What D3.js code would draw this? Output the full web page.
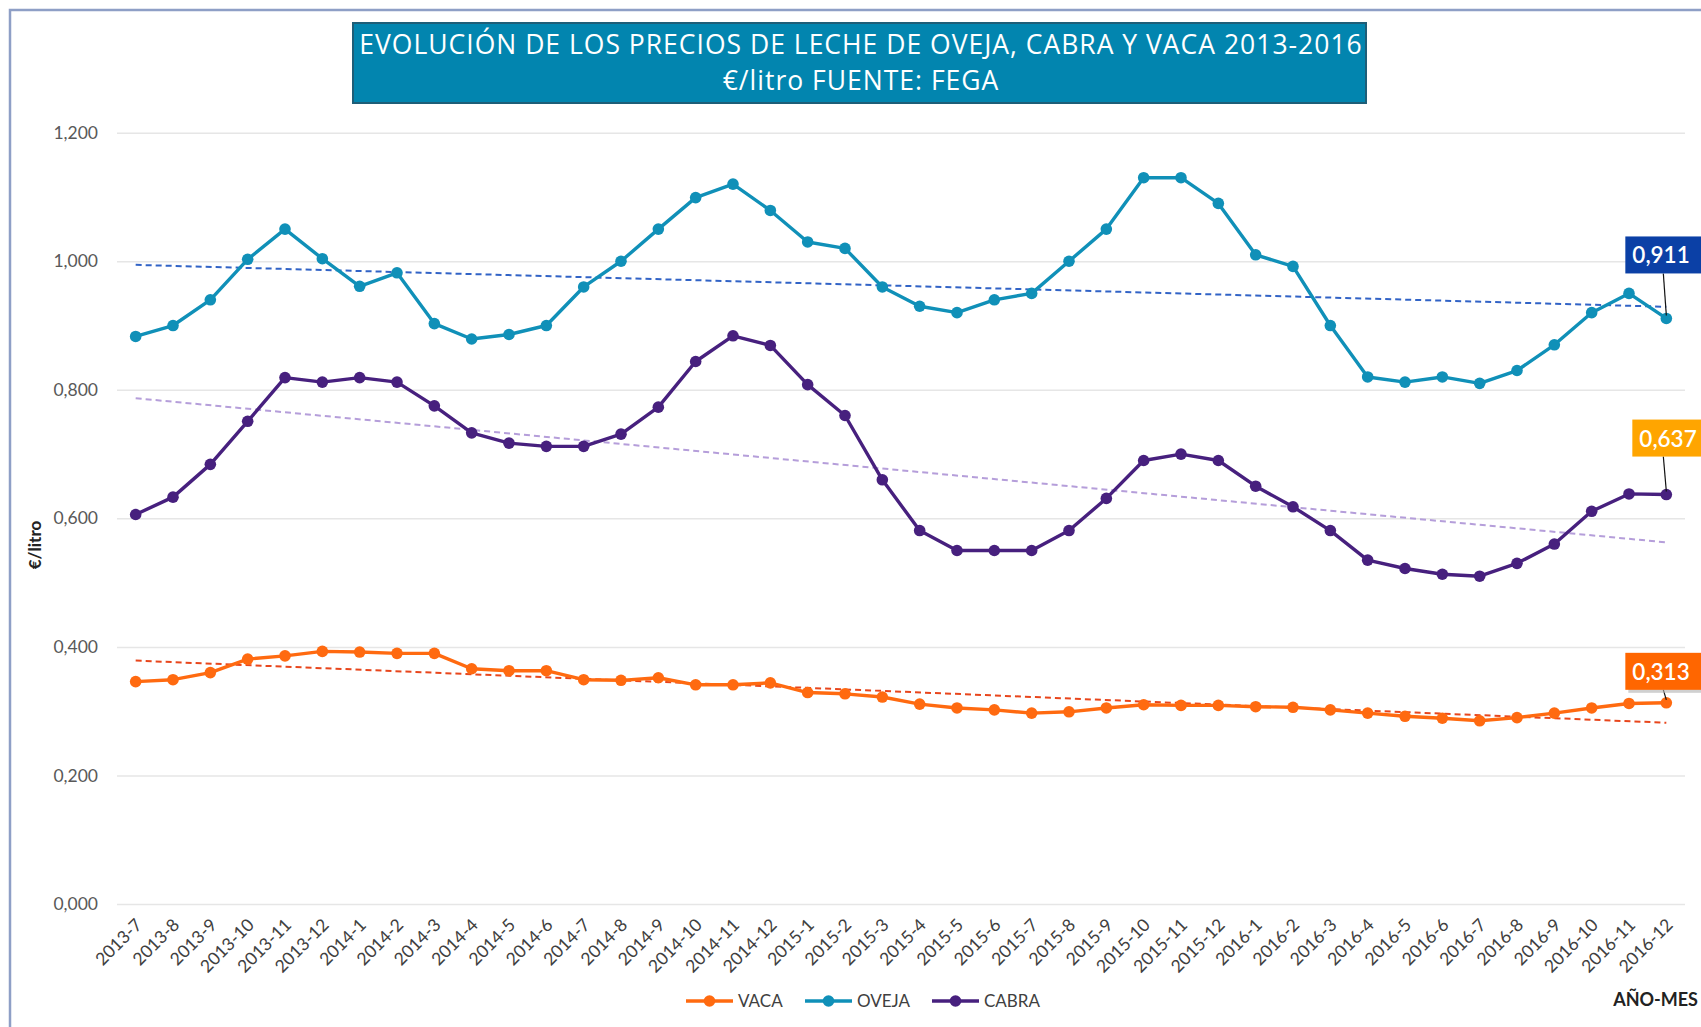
<!DOCTYPE html>
<html>
<head>
<meta charset="utf-8">
<script src="https://cdn.jsdelivr.net/npm/d3@7"></script>
<style>
	body { margin: 0; background: #fff; }
	text { font-family: Lato, "Open Sans", sans-serif; }
</style>
</head>
<body>
<div id="chart"></div>
<script>
/*
* Monthly milk prices, euro per litre (FEGA)
*/
const months = ["2013-7", "2013-8", "2013-9", "2013-10", "2013-11", "2013-12",
	"2014-1", "2014-2", "2014-3", "2014-4", "2014-5", "2014-6", "2014-7", "2014-8", "2014-9", "2014-10", "2014-11", "2014-12",
	"2015-1", "2015-2", "2015-3", "2015-4", "2015-5", "2015-6", "2015-7", "2015-8", "2015-9", "2015-10", "2015-11", "2015-12",
	"2016-1", "2016-2", "2016-3", "2016-4", "2016-5", "2016-6", "2016-7", "2016-8", "2016-9", "2016-10", "2016-11", "2016-12"];

const vaca = [0.346, 0.349, 0.360, 0.381, 0.386, 0.393, 0.392, 0.390, 0.390, 0.366, 0.363, 0.363,
	0.349, 0.348, 0.352, 0.341, 0.341, 0.344, 0.329, 0.327, 0.322, 0.311, 0.305, 0.302,
	0.297, 0.299, 0.305, 0.310, 0.309, 0.309, 0.307, 0.306, 0.302, 0.297, 0.292, 0.289,
	0.285, 0.290, 0.297, 0.305, 0.312, 0.313];

const oveja = [0.883, 0.900, 0.940, 1.003, 1.050, 1.004, 0.961, 0.982, 0.903, 0.879, 0.886, 0.900,
	0.960, 1.000, 1.050, 1.099, 1.120, 1.079, 1.030, 1.020, 0.960, 0.930, 0.920, 0.940,
	0.950, 1.000, 1.050, 1.130, 1.130, 1.090, 1.010, 0.992, 0.900, 0.820, 0.812, 0.820,
	0.810, 0.830, 0.870, 0.920, 0.950, 0.911];

const cabra = [0.606, 0.633, 0.684, 0.751, 0.819, 0.812, 0.819, 0.812, 0.775, 0.733, 0.717, 0.712,
	0.712, 0.731, 0.773, 0.844, 0.884, 0.869, 0.808, 0.760, 0.660, 0.581, 0.550, 0.550,
	0.550, 0.581, 0.631, 0.690, 0.700, 0.690, 0.650, 0.618, 0.581, 0.535, 0.522, 0.513,
	0.510, 0.530, 0.560, 0.611, 0.638, 0.637];

const yTicks = [0, 0.2, 0.4, 0.6, 0.8, 1.0, 1.2];

const seriesNames = ["VACA", "OVEJA", "CABRA"];
const seriesValues = [vaca, oveja, cabra];

/* styles for each series, same order as seriesNames */
const lineColors = ["#FF6A10", "#1090B8", "#47207E"];
const trendColors = ["#E8461C", "#3163C6", "#B59EDA"];
const labelFills = ["#FF6600", "#0B40A6", "#FFA500"];
/* offset of the end label box from the last point: dx, dy, width */
const labelBoxes = [[-41, -50, 80], [-41, -82, 80], [-34, -75, 80]];

const W = 1701, H = 1027;
const svg = d3.select("#chart").append("svg").attr("width", W).attr("height", H);

/* outer frame */
svg.append("rect").attr("x", 10).attr("y", 10).attr("width", W).attr("height", H)
	.attr("fill", "none").attr("stroke", "#8E9FC6").attr("stroke-width", 2.5);

const x = d3.scalePoint().domain(months).range([117, 1685]).padding(0.5);
const y = d3.scaleLinear().domain([0, 1.2]).range([904, 132.7]);

const locale = d3.formatLocale({ decimal: ",", thousands: ".", grouping: [3], currency: ["", "€"] });
const fmt = locale.format(".3f");

/* gridlines + y labels */
const yAxis = svg.append("g").attr("transform", "translate(117,0)")
	.call(d3.axisLeft(y).tickValues(yTicks).tickFormat(fmt).tickSize(-1568).tickPadding(19));
yAxis.select(".domain").remove();
yAxis.selectAll(".tick line").attr("stroke", "#E6E6E6").attr("stroke-width", 1.5);
yAxis.selectAll(".tick text").attr("fill", "#595959").attr("font-size", 17.5);

/* x labels, rotated */
const xAxis = svg.append("g").attr("transform", "translate(0,904)")
	.call(d3.axisBottom(x).tickSize(0).tickPadding(0));
xAxis.select(".domain").remove();
xAxis.selectAll(".tick text")
	.attr("font-size", 17.5).attr("fill", "#404040")
	.attr("text-anchor", "end").attr("dy", 0)
	.attr("transform", "translate(7,22) rotate(-45)");

/* linear trend lines (least squares over month index) */
seriesValues.forEach((vals, s) => {
	const n = vals.length;
	const mx = (n - 1) / 2;
	const my = d3.mean(vals);
	let num = 0, den = 0;
	vals.forEach((v, i) => { num += (i - mx) * (v - my); den += (i - mx) * (i - mx); });
	const b = num / den, a = my - b * mx;
	svg.append("line")
		.attr("x1", x(months[0])).attr("y1", y(a))
		.attr("x2", x(months[n - 1])).attr("y2", y(a + b * (n - 1)))
		.attr("stroke", trendColors[s]).attr("stroke-width", 2)
		.attr("stroke-dasharray", "6,4");
});

/* series lines + markers */
const line = d3.line().x((d, i) => x(months[i])).y(d => y(d));
seriesValues.forEach((vals, s) => {
	svg.append("path").datum(vals).attr("d", line)
		.attr("fill", "none").attr("stroke", lineColors[s]).attr("stroke-width", 3.4)
		.attr("stroke-linejoin", "round");
	svg.append("g").selectAll("circle").data(vals).join("circle")
		.attr("cx", (d, i) => x(months[i])).attr("cy", d => y(d)).attr("r", 5.8)
		.attr("fill", lineColors[s]);
});

/* end value labels */
seriesValues.forEach((vals, s) => {
	const last = vals[vals.length - 1];
	const px = x(months[months.length - 1]), py = y(last);
	const bx = px + labelBoxes[s][0], by = py + labelBoxes[s][1], bw = labelBoxes[s][2];
	svg.append("line").attr("x1", px - 3).attr("y1", by + 37).attr("x2", px).attr("y2", py - 3)
		.attr("stroke", "#111").attr("stroke-width", 1.2);
	if (s == 0) {
		svg.append("rect").attr("x", bx + 3).attr("y", by + 3).attr("width", bw).attr("height", 37)
			.attr("fill", "#B0B0B0").attr("opacity", 0.6);
	}
	svg.append("rect").attr("x", bx).attr("y", by).attr("width", bw).attr("height", 37)
		.attr("fill", labelFills[s]);
	svg.append("text").attr("x", bx + 7).attr("y", by + 27)
		.attr("fill", "#fff").attr("font-size", 22.5).attr("font-weight", 600)
		.text(fmt(last));
});

/* title box */
svg.append("rect").attr("x", 353).attr("y", 23).attr("width", 1013).attr("height", 80)
	.attr("fill", "#0285AF").attr("stroke", "#1E5E78").attr("stroke-width", 2);
svg.append("text").attr("x", 861).attr("y", 54).attr("text-anchor", "middle")
	.attr("fill", "#fff").attr("font-size", 26.5).attr("letter-spacing", 1).style("font-family", "'Open Sans'")
	.text("EVOLUCIÓN DE LOS PRECIOS DE LECHE DE OVEJA, CABRA Y VACA 2013-2016");
svg.append("text").attr("x", 861).attr("y", 90).attr("text-anchor", "middle")
	.attr("fill", "#fff").attr("font-size", 26.5).attr("letter-spacing", 1).style("font-family", "'Open Sans'")
	.text("€/litro FUENTE: FEGA");

/* axis titles */
svg.append("text").attr("transform", "translate(41,545) rotate(-90)").attr("text-anchor", "middle")
	.attr("font-size", 17).attr("font-weight", "bold").attr("fill", "#222").text("€/litro");
svg.append("text").attr("x", 1698).attr("y", 1006).attr("text-anchor", "end")
	.attr("font-size", 18).attr("font-weight", "bold").attr("fill", "#222").text("AÑO-MES");

/* legend */
const legendX = [686, 805, 932];
seriesNames.forEach((name, s) => {
	const g = svg.append("g").attr("transform", "translate(" + legendX[s] + ",1001)");
	g.append("line").attr("x1", 0).attr("x2", 47).attr("stroke", lineColors[s]).attr("stroke-width", 3.4);
	g.append("circle").attr("cx", 23.5).attr("r", 5.8).attr("fill", lineColors[s]);
	g.append("text").attr("x", 52).attr("y", 6).attr("font-size", 17).attr("fill", "#404040").text(name);
});
</script>
</body>
</html>
